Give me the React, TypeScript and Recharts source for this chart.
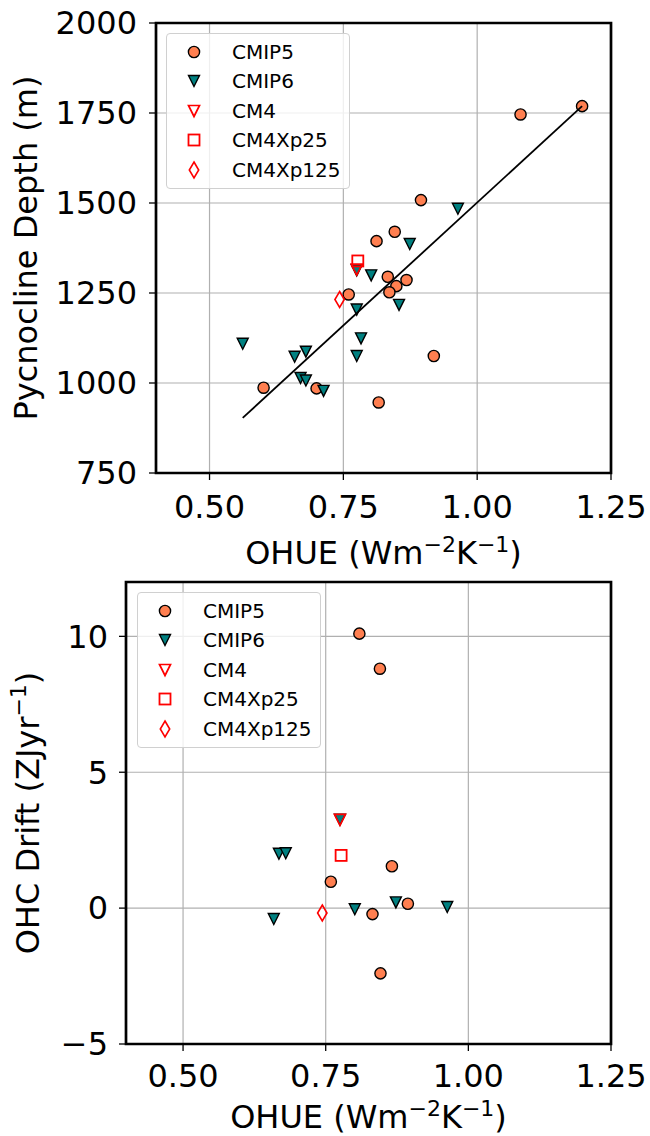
import React from 'react';
import {
  ScatterChart,
  Scatter,
  XAxis,
  YAxis,
  CartesianGrid,
  ReferenceArea,
  Legend,
} from 'recharts';

const FONT = '"DejaVu Sans", sans-serif';
const CORAL = '#ff7f50';
const TEAL = '#008080';
const RED = '#ff0000';
const GRID = '#b0b0b0';

// ---- top panel: pycnocline depth vs OHUE ----
const cmip5OhueTop = [0.895, 0.846, 0.812, 0.833, 0.849, 0.868, 0.836, 0.76, 0.919, 0.601, 0.7, 0.816, 1.081, 1.196];
const cmip5Depth = [1508, 1420, 1394, 1295, 1269, 1286, 1252, 1246, 1075, 987, 985, 946, 1746, 1769];
const cmip6OhueTop = [0.964, 0.874, 0.802, 0.775, 0.775, 0.854, 0.783, 0.775, 0.562, 0.659, 0.68, 0.67, 0.68, 0.713];
const cmip6Depth = [1484, 1386, 1299, 1313, 1204, 1217, 1124, 1075, 1109, 1073, 1087, 1014, 1007, 978];
const cm4Top = [{ x: 0.775, y: 1315 }];
const cm4p25Top = [{ x: 0.777, y: 1339 }];
const cm4p125Top = [{ x: 0.743, y: 1232 }];
const fitOhue = [0.562, 1.196];
const fitDepth = [903, 1769];
const depthTicks = [750, 1000, 1250, 1500, 1750, 2000];

// ---- bottom panel: OHC drift vs OHUE ----
const cmip5OhueBot = [0.809, 0.845, 0.866, 0.759, 0.894, 0.832, 0.846];
const cmip5Drift = [10.1, 8.81, 1.54, 0.97, 0.16, -0.22, -2.4];
const cmip6OhueBot = [0.668, 0.68, 0.659, 0.801, 0.873, 0.963, 0.775];
const cmip6Drift = [2.0, 2.02, -0.4, -0.04, 0.21, 0.04, 3.25];
const cm4Bot = [{ x: 0.775, y: 3.25 }];
const cm4p25Bot = [{ x: 0.777, y: 1.94 }];
const cm4p125Bot = [{ x: 0.744, y: -0.18 }];
const driftTicks = [-5, 0, 5, 10];

const ohueTicks = [0.5, 0.75, 1.0, 1.25];
const legendNames = ['CMIP5', 'CMIP6', 'CM4', 'CM4Xp25', 'CM4Xp125'];

const pts = (xs: number[], ys: number[]) => xs.map((x, i) => ({ x, y: ys[i] }));

// marker shapes (matplotlib o, v, v-open, s-open, d-open)
const Dot = ({ cx, cy }: any) => (
  <circle cx={cx} cy={cy} r={5.6} fill={CORAL} stroke="#000" strokeWidth={1.4} />
);
const Tri = ({ cx, cy }: any) => (
  <polygon
    points={`${cx - 5.5},${cy - 5.5} ${cx + 5.5},${cy - 5.5} ${cx},${cy + 5.5}`}
    fill={TEAL}
    stroke="#000"
    strokeWidth={1.4}
    strokeLinejoin="miter"
  />
);
const OpenTri = ({ cx, cy }: any) => (
  <polygon
    points={`${cx - 5.5},${cy - 5.5} ${cx + 5.5},${cy - 5.5} ${cx},${cy + 5.5}`}
    fill="none"
    stroke={RED}
    strokeWidth={1.7}
  />
);
const Square = ({ cx, cy }: any) => (
  <rect x={cx - 5.5} y={cy - 5.5} width={11} height={11} fill="none" stroke={RED} strokeWidth={1.8} />
);
const Diamond = ({ cx, cy }: any) => (
  <polygon
    points={`${cx},${cy - 8} ${cx + 4.7},${cy} ${cx},${cy + 8} ${cx - 4.7},${cy}`}
    fill="none"
    stroke={RED}
    strokeWidth={1.6}
  />
);
const icons = [Dot, Tri, OpenTri, Square, Diamond];

const LegendBox = () => (
  <div
    style={{
      boxSizing: 'border-box',
      width: 184,
      height: 156,
      border: '1px solid #d0d0d0',
      borderRadius: 4,
      background: 'rgba(255,255,255,0.8)',
      paddingTop: 3,
      fontFamily: FONT,
      fontSize: 20,
      color: '#000',
    }}
  >
    {legendNames.map((name, i) => {
      const Icon = icons[i];
      return (
        <div key={name} style={{ display: 'flex', alignItems: 'center', height: 29.5 }}>
          <svg width={20} height={20} style={{ marginLeft: 17, flex: 'none' }}>
            <Icon cx={10} cy={10} />
          </svg>
          <span style={{ marginLeft: 28, lineHeight: '20px' }}>{name}</span>
        </div>
      );
    })}
  </div>
);

const XLabel = ({ viewBox, dy = 91 }: any) => (
  <text
    x={viewBox.x + viewBox.width / 2}
    y={viewBox.y + dy}
    textAnchor="middle"
    fontSize={32}
    fontFamily={FONT}
    fill="#000"
  >
    OHUE (Wm
    <tspan dy={-12} fontSize={22}>−2</tspan>
    <tspan dy={12}>K</tspan>
    <tspan dy={-12} fontSize={22}>−1</tspan>
    <tspan dy={12}>)</tspan>
  </text>
);

const YLabel = ({ viewBox, bx, children }: any) => {
  const cy = viewBox.y + viewBox.height / 2;
  return (
    <text
      x={bx}
      y={cy}
      transform={`rotate(-90, ${bx}, ${cy})`}
      textAnchor="middle"
      fontSize={32}
      fontFamily={FONT}
      fill="#000"
    >
      {children}
    </text>
  );
};

const fmtY = (v: number) => (v < 0 ? `\u2212${Math.abs(v)}` : `${v}`);
const tickStyle = { fontSize: 32, fontFamily: FONT, fill: '#000' };
const tickLine = { stroke: '#000', strokeWidth: 1.3 };

export default function App() {
  return (
    <div style={{ position: 'absolute', left: 0, top: 0, width: 650, height: 1136, background: '#fff' }}>
      <div style={{ position: 'absolute', left: 0, top: 0 }}>
        <ScatterChart width={650} height={576} margin={{ top: 23, right: 39, bottom: 0, left: 0 }}>
          <CartesianGrid stroke={GRID} strokeWidth={1.2} />
          <XAxis
            type="number"
            dataKey="x"
            domain={[0.4, 1.25]}
            ticks={ohueTicks}
            tickFormatter={(v: number) => v.toFixed(2)}
            height={103}
            axisLine={false}
            tickLine={tickLine}
            tickSize={7}
            tickMargin={15}
            tick={tickStyle}
            allowDataOverflow
            label={<XLabel dy={91} />}
          />
          <YAxis
            type="number"
            dataKey="y"
            domain={[750, 2000]}
            ticks={depthTicks}
            width={156}
            axisLine={false}
            tickLine={tickLine}
            tickSize={7}
            tickMargin={12}
            tick={tickStyle}
            allowDataOverflow
            label={<YLabel bx={37}>Pycnocline Depth (m)</YLabel>}
          />
          <Scatter data={pts(cmip5OhueTop, cmip5Depth)} shape={Dot} isAnimationActive={false} />
          <Scatter data={pts(cmip6OhueTop, cmip6Depth)} shape={Tri} isAnimationActive={false} />
          <Scatter data={cm4Top} shape={OpenTri} isAnimationActive={false} />
          <Scatter data={cm4p25Top} shape={Square} isAnimationActive={false} />
          <Scatter data={cm4p125Top} shape={Diamond} isAnimationActive={false} />
          <Scatter
            data={pts(fitOhue, fitDepth)}
            line={{ stroke: '#000', strokeWidth: 1.8 }}
            lineType="joint"
            shape={() => <g />}
            isAnimationActive={false}
          />
          <ReferenceArea x1={0.4} x2={1.25} y1={750} y2={2000} fill="none" stroke="#000" strokeWidth={2.7} />
          <Legend
            layout="vertical"
            align="center"
            verticalAlign="middle"
            wrapperStyle={{ left: 166, top: 33, width: 184, height: 156 }}
            content={() => <LegendBox />}
          />
        </ScatterChart>
      </div>
      <div style={{ position: 'absolute', left: 0, top: 576 }}>
        <ScatterChart width={650} height={560} margin={{ top: 6, right: 39, bottom: 0, left: 0 }}>
          <CartesianGrid stroke={GRID} strokeWidth={1.2} />
          <XAxis
            type="number"
            dataKey="x"
            domain={[0.4, 1.25]}
            ticks={ohueTicks}
            tickFormatter={(v: number) => v.toFixed(2)}
            height={92}
            axisLine={false}
            tickLine={tickLine}
            tickSize={7}
            tickMargin={13}
            tick={tickStyle}
            allowDataOverflow
            label={<XLabel dy={84} />}
          />
          <YAxis
            type="number"
            dataKey="y"
            domain={[-5, 12]}
            ticks={driftTicks}
            tickFormatter={fmtY}
            width={126}
            axisLine={false}
            tickLine={tickLine}
            tickSize={7}
            tickMargin={11}
            tick={tickStyle}
            allowDataOverflow
            label={
              <YLabel bx={38.5}>
                OHC Drift (ZJyr
                <tspan dy={-13} fontSize={22}>−1</tspan>
                <tspan dy={13}>)</tspan>
              </YLabel>
            }
          />
          <Scatter data={pts(cmip5OhueBot, cmip5Drift)} shape={Dot} isAnimationActive={false} />
          <Scatter data={pts(cmip6OhueBot, cmip6Drift)} shape={Tri} isAnimationActive={false} />
          <Scatter data={cm4Bot} shape={OpenTri} isAnimationActive={false} />
          <Scatter data={cm4p25Bot} shape={Square} isAnimationActive={false} />
          <Scatter data={cm4p125Bot} shape={Diamond} isAnimationActive={false} />
          <ReferenceArea x1={0.4} x2={1.25} y1={-5} y2={12} fill="none" stroke="#000" strokeWidth={2.7} />
          <Legend
            layout="vertical"
            align="center"
            verticalAlign="middle"
            wrapperStyle={{ left: 137, top: 16, width: 184, height: 156 }}
            content={() => <LegendBox />}
          />
        </ScatterChart>
      </div>
    </div>
  );
}
